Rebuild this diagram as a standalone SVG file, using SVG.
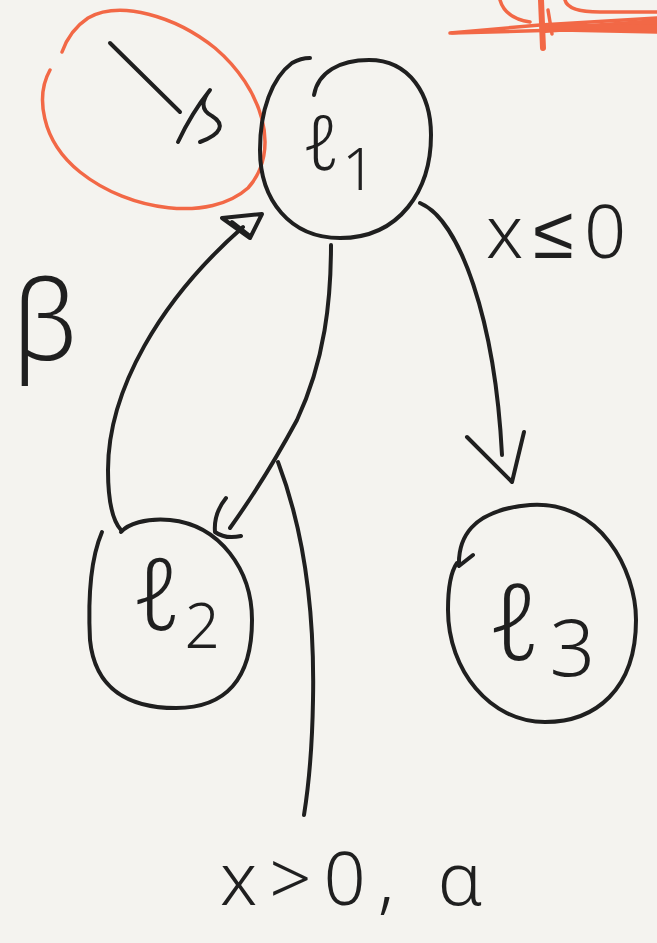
<svg xmlns="http://www.w3.org/2000/svg" width="657" height="943" viewBox="0 0 657 943">
<style>
.ink{fill:none;stroke:#1f1f1f;stroke-width:4;stroke-linecap:round;stroke-linejoin:round}
.red{fill:none;stroke:#f26846;stroke-width:3.5;stroke-linecap:round;stroke-linejoin:round}
.redthick{fill:none;stroke:#f26846;stroke-width:6;stroke-linecap:round;stroke-linejoin:round}
.lbl{font-family:"Noto Sans","DejaVu Sans",sans-serif;font-weight:300;fill:#1f1f1f}
</style>
<rect width="657" height="943" fill="#f4f3ef"/>

<g id="scribble">
<path class="red" d="M450,33 L540,25 L657,18"/>
<path class="red" d="M452,33 L560,30 L657,32"/>
<path class="redthick" d="M545,30 L657,22"/>
<path class="redthick" d="M545,26 L657,28"/>
<path class="red" d="M500,0 Q505,18 530,22"/>
<path class="red" d="M565,0 Q568,12 600,12 L657,12"/>
<path class="redthick" d="M541,0 L543,48"/>
<path class="red" d="M548,10 L552,34"/>
</g>

<g id="start">
<path class="red" d="M50,70 C36,95 40,140 80,172 C130,212 210,222 248,188 C282,150 262,88 215,48 C175,16 120,0 88,18 C76,26 67,38 62,52"/>
<path class="ink" d="M110,43 L180,112"/>
<path class="ink" d="M178,142 C186,125 198,105 210,90 C202,100 200,110 212,116 C225,124 222,134 200,142"/>
</g>

<g id="l1">
<path class="ink" d="M314,95 C318,72 340,60 369,60 C410,60 431,95 431,135 C431,190 400,238 340,238 C290,238 260,200 260,150 C260,110 272,78 292,63 C299,59 305,58 310,58"/>
<text class="lbl" x="302" y="170" font-size="76">ℓ<tspan font-size="58" dx="2" dy="20">1</tspan></text>
</g>

<g id="l2">
<path class="ink" d="M102,532 C90,560 88,600 90,640 C95,690 130,708 176,708 C225,708 252,680 252,620 C252,570 220,525 170,520 C145,518 128,524 121,532"/>
<text class="lbl" x="132" y="630" font-size="100">ℓ<tspan font-size="62" dx="2" dy="18">2</tspan></text>
</g>

<g id="l3">
<path class="ink" d="M473,555 L459,566 C458,540 470,510 530,505 C600,500 636,570 636,620 C636,690 595,722 545,722 C490,722 448,670 448,610 C448,585 452,570 457,563"/>
<text class="lbl" x="488" y="660" font-size="106">ℓ<tspan font-size="80" dx="8" dy="16">3</tspan></text>
</g>

<g id="labels">
<text class="lbl" x="12" y="360" font-size="110">β</text>
<text class="lbl" x="486" y="258" font-size="74" letter-spacing="10">x≤0</text>
<text class="lbl" x="220" y="905" font-size="74" letter-spacing="12">x&gt;0, α</text>
</g>

<g id="connectors">
<path class="ink" d="M121,530 C112,520 108,500 108,470 C108,390 160,300 243,227"/>
<path class="ink" d="M222,218 L262,214 L250,238 Z M232,222 L250,236"/>
<path class="ink" d="M331,245 C331,300 325,360 297,420 C270,470 250,500 230,528"/>
<path class="ink" d="M226,498 C218,508 214,520 215,532 C222,537 232,538 241,536"/>
<path class="ink" d="M420,203 C460,220 495,320 502,455"/>
<path class="ink" d="M467,437 L512,482 L524,432"/>
<path class="ink" d="M278,462 C300,520 315,600 313,700 C312,760 308,790 304,815"/>
</g>
</svg>
